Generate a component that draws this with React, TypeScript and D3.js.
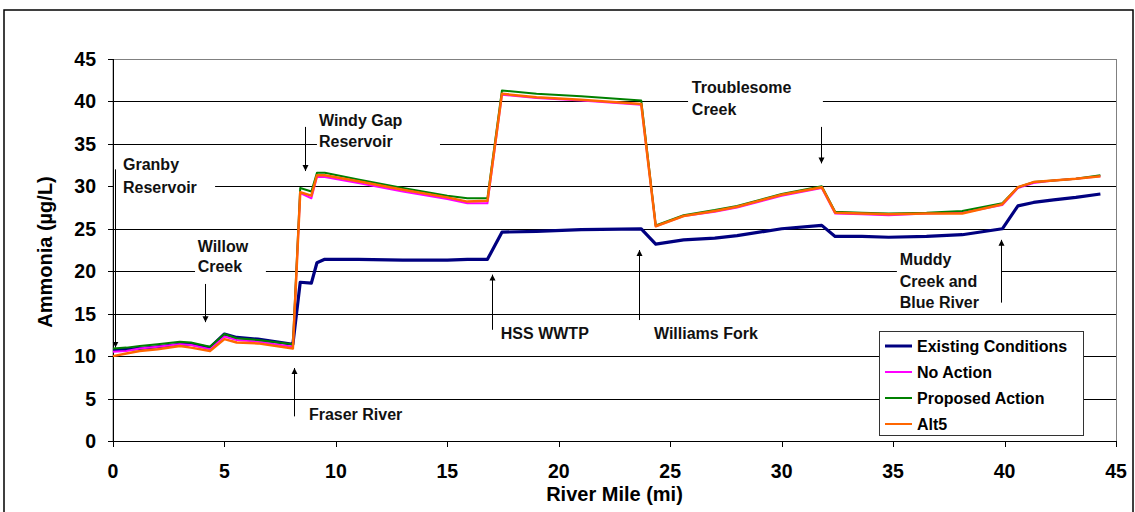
import * as d3 from 'd3';

// river mile stations shared by every scenario
const riverMile = [0, 0.6, 1.2, 2, 3.0, 3.5, 4.35, 5.0, 5.55, 6.5, 8.07, 8.4, 8.9, 9.15, 9.5, 11, 13, 15, 15.9, 16.8, 17.45, 19, 21, 23.7, 24.35, 25.6, 27, 28, 30, 31.8, 32.4, 33.6, 34.8, 36.5, 38.1, 39.9, 40.6, 41.3, 42.2, 43.2, 44.3];

const existingConditions = [10.7, 10.8, 10.9, 11.1, 11.4, 11.4, 11.0, 12.6, 12.2, 12.0, 11.4, 18.7, 18.6, 21.0, 21.4, 21.4, 21.3, 21.3, 21.4, 21.4, 24.6, 24.7, 24.9, 25.0, 23.2, 23.7, 23.9, 24.2, 25.0, 25.4, 24.1, 24.1, 24.0, 24.1, 24.3, 25.0, 27.7, 28.1, 28.4, 28.7, 29.1];
const noAction = [10.5, 10.6, 10.9, 11.1, 11.4, 11.3, 10.8, 12.3, 11.9, 11.7, 11.1, 29.2, 28.6, 31.1, 31.1, 30.4, 29.4, 28.5, 28.0, 28.0, 40.8, 40.4, 40.1, 39.6, 25.3, 26.5, 27.0, 27.5, 28.9, 29.8, 26.8, 26.7, 26.6, 26.8, 26.9, 27.8, 29.8, 30.4, 30.7, 30.9, 31.2];
const proposedAction = [10.9, 11.0, 11.2, 11.4, 11.7, 11.6, 11.1, 12.6, 12.1, 11.9, 11.4, 29.8, 29.4, 31.6, 31.6, 30.8, 29.8, 28.9, 28.6, 28.6, 41.3, 40.9, 40.6, 40.1, 25.4, 26.6, 27.2, 27.7, 29.1, 30.0, 27.0, 26.9, 26.8, 26.9, 27.1, 28.0, 29.9, 30.5, 30.7, 30.9, 31.3];
const alt5 = [10.0, 10.3, 10.6, 10.8, 11.2, 11.0, 10.6, 12.0, 11.6, 11.5, 10.9, 29.3, 28.9, 31.3, 31.3, 30.6, 29.6, 28.7, 28.2, 28.3, 40.9, 40.5, 40.2, 39.7, 25.3, 26.5, 27.1, 27.6, 29.0, 29.9, 26.9, 26.8, 26.7, 26.8, 26.8, 27.9, 29.9, 30.5, 30.7, 30.9, 31.2];

const seriesNames = ['Existing Conditions', 'No Action', 'Proposed Action', 'Alt5'];
const seriesValues = [existingConditions, noAction, proposedAction, alt5];
const seriesColors = ['#000080', '#ff00ff', '#008000', '#ff6600'];
const seriesWidths = [3.2, 2, 2, 2.5];

const xTicks = [0, 5, 10, 15, 20, 25, 30, 35, 40, 45];
const yTicks = [0, 5, 10, 15, 20, 25, 30, 35, 40, 45];

// annotations, in data units: text lines, text anchor, white box, arrow
const notes = [
  { lines: ['Granby', 'Reservoir'], tx: 0.45, ty: [32.6, 29.9], box: [0.02, 4.58, 34.3, 28.4], arrow: [0.1, 32, 11.0] },
  { lines: ['Willow', 'Creek'], tx: 3.8, ty: [23.0, 20.6], box: [3.68, 6.86, 24.1, 19.2], arrow: [4.13, 18.5, 14.0] },
  { lines: ['Windy Gap', 'Reservoir'], tx: 9.24, ty: [37.8, 35.3], box: [9.15, 14.67, 39.3, 34.0], arrow: [8.61, 37.0, 31.8] },
  { lines: ['Fraser River'], tx: 8.79, ty: [3.2], box: null, arrow: [8.12, 2.9, 8.6] },
  { lines: ['HSS WWTP'], tx: 17.4, ty: [12.7], box: null, arrow: [17.0, 13.1, 19.6] },
  { lines: ['Williams Fork'], tx: 24.27, ty: [12.7], box: null, arrow: [23.6, 14.25, 22.5] },
  { lines: ['Troublesome', 'Creek'], tx: 25.97, ty: [41.7, 39.1], box: [25.8, 31.85, 43.1, 37.8], arrow: [31.76, 37.0, 32.7] },
  { lines: ['Muddy', 'Creek and', 'Blue River'], tx: 35.3, ty: [21.4, 18.8, 16.4], box: [35.17, 39.88, 22.7, 15.3], arrow: [39.84, 16.3, 23.7] },
];

const FONT = '"Liberation Sans", Arial, sans-serif';

export default function App() {
  const width = 1135;
  const height = 512;
  const left = 113;
  const right = 1116;
  const top = 59;
  const bottom = 441;

  const x = d3.scaleLinear().domain([0, 45]).range([left, right]);
  const y = d3.scaleLinear().domain([0, 45]).range([bottom, top]);

  const line = d3.line<number>()
    .x((_, i) => x(riverMile[i]))
    .y((d) => y(d));

  return (
    <svg width={width} height={height} style={{ position: 'absolute', left: 0, top: 0, background: '#fff' }} fontFamily={FONT}>
      <defs>
        <marker id="ah" viewBox="0 0 10 10" refX="10" refY="5" markerWidth="6" markerHeight="7" orient="auto" markerUnits="userSpaceOnUse">
          <path d="M0,0 L10,5 L0,10 z" fill="#000" />
        </marker>
      </defs>

      {/* outer chart frame */}
      <rect x={4} y={10} width={1129} height={520} fill="#fff" stroke="#000" strokeWidth={1.5} />

      {/* gridlines */}
      {yTicks.filter((t) => t > 0 && t < 45).map((t) => (
        <line key={t} x1={left} x2={right} y1={Math.round(y(t)) + 0.5} y2={Math.round(y(t)) + 0.5} stroke="#000" strokeWidth={1} />
      ))}
      <rect x={left} y={top + 0.5} width={right - left + 0.5} height={bottom - top} fill="none" stroke="#808080" strokeWidth={1} />

      {/* white label boxes hiding gridlines */}
      {notes.filter((n) => n.box).map((n, i) => (
        <rect key={i} x={x(n.box![0])} y={y(n.box![2])} width={x(n.box![1]) - x(n.box![0])} height={y(n.box![3]) - y(n.box![2])} fill="#fff" />
      ))}

      {/* axes */}
      <line x1={left + 0.5} x2={left + 0.5} y1={top} y2={bottom + 1} stroke="#000" />
      <line x1={left} x2={right + 1} y1={bottom + 0.5} y2={bottom + 0.5} stroke="#000" />
      {yTicks.map((t) => (
        <g key={t}>
          <line x1={left - 5} x2={left} y1={Math.round(y(t)) + 0.5} y2={Math.round(y(t)) + 0.5} stroke="#000" />
          <text x={left - 17} y={y(t)} dy="0.36em" textAnchor="end" fontSize={19.5} fontWeight="bold">{t}</text>
        </g>
      ))}
      {xTicks.map((t) => (
        <g key={t}>
          <line x1={Math.round(x(t)) + 0.5} x2={Math.round(x(t)) + 0.5} y1={bottom} y2={bottom + 6} stroke="#000" />
          <text x={x(t)} y={478} textAnchor="middle" fontSize={19.5} fontWeight="bold">{t}</text>
        </g>
      ))}
      <text x={(left + right) / 2} y={501} textAnchor="middle" fontSize={20} fontWeight="bold">River Mile (mi)</text>
      <text transform={`translate(52,${(top + bottom) / 2 + 2}) rotate(-90)`} textAnchor="middle" fontSize={20} fontWeight="bold">Ammonia (µg/L)</text>

      {/* annotations */}
      {notes.map((n, i) => (
        <g key={i}>
          {n.lines.map((s, j) => (
            <text key={j} x={x(n.tx)} y={y(n.ty[j])} dy="0.36em" fontSize={16} fontWeight="bold" fill="#111">{s}</text>
          ))}
          <line x1={Math.round(x(n.arrow[0])) + 0.5} x2={Math.round(x(n.arrow[0])) + 0.5} y1={y(n.arrow[1])} y2={y(n.arrow[2])} stroke="#000" strokeWidth={1} markerEnd="url(#ah)" />
        </g>
      ))}

      {/* series */}
      {seriesValues.map((vals, i) => (
        <path key={seriesNames[i]} d={line(vals)!} fill="none" stroke={seriesColors[i]} strokeWidth={seriesWidths[i]} strokeLinejoin="round" />
      ))}

      {/* legend */}
      <g>
        <rect x={879.5} y={331.5} width={204} height={104} fill="#fff" stroke="#333" strokeWidth={1} />
        {seriesNames.map((name, i) => (
          <g key={name} transform={`translate(0,${346 + i * 26})`}>
            <line x1={885} x2={912} y1={0} y2={0} stroke={seriesColors[i]} strokeWidth={i === 0 ? 3 : 2} />
            <text x={917} y={0} dy="0.36em" fontSize={16} fontWeight="bold">{name}</text>
          </g>
        ))}
      </g>
    </svg>
  );
}
